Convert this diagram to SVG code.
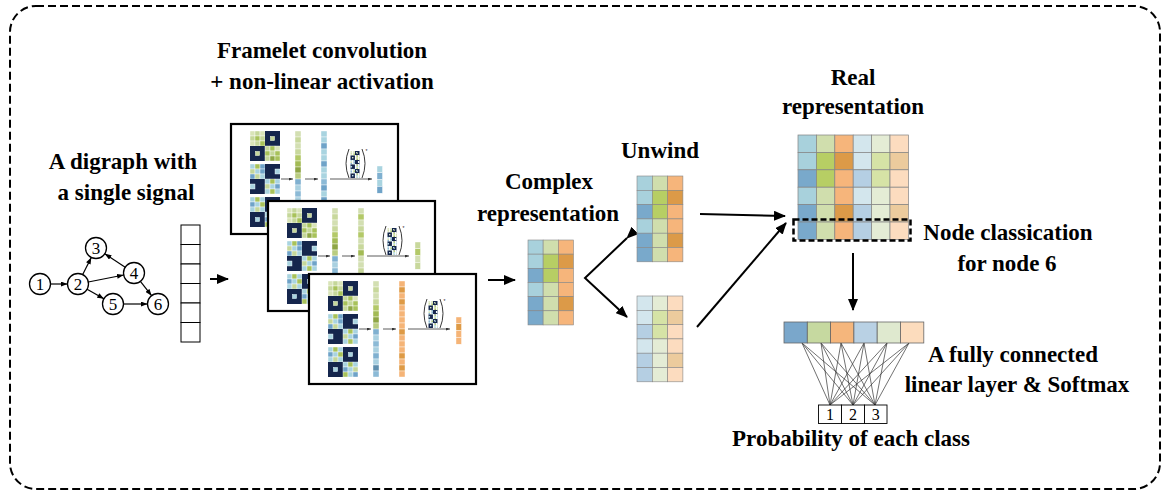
<svg xmlns="http://www.w3.org/2000/svg" xmlns:xlink="http://www.w3.org/1999/xlink" width="1169" height="495" viewBox="0 0 1169 495">
<style>
.t{font-family:'Liberation Serif','Times New Roman','DejaVu Serif',serif;font-weight:bold;font-size:23px;text-anchor:middle;fill:#000}
.nl{font-family:'Liberation Serif','Times New Roman','DejaVu Serif',serif;font-size:17px;text-anchor:middle;fill:#000}
.bl{font-family:'Liberation Serif','Times New Roman','DejaVu Serif',serif;font-size:16px;text-anchor:middle;fill:#000}
.c{stroke:#fff;stroke-width:0.4}
.g{stroke:#858585;stroke-width:0.6}
.node{fill:#fff;stroke:#000;stroke-width:1.3}
.panel{fill:#fff;stroke:#000;stroke-width:2.2}
.arr{stroke:#000;stroke-width:2;fill:none}
.sarr{stroke:#000;stroke-width:1.2;fill:none}
.parr{stroke:#333;stroke-width:0.8;fill:none}
.fc{stroke:#333;stroke-width:0.7}
.sig{fill:#fff;stroke:#000;stroke-width:1}
</style>
<defs>
<marker id="ah" viewBox="0 0 12 10" refX="11" refY="5" markerWidth="12" markerHeight="10" markerUnits="userSpaceOnUse" orient="auto"><path d="M0,0 L12,5 L0,10 z" fill="#000"/></marker>
<marker id="as" viewBox="0 0 8 6" refX="8" refY="3" markerWidth="7" markerHeight="5" markerUnits="userSpaceOnUse" orient="auto"><path d="M0,0 L8,3 L0,6 z" fill="#000"/></marker>
<marker id="ap" viewBox="0 0 4 3" refX="4" refY="1.5" markerWidth="4" markerHeight="3" markerUnits="userSpaceOnUse" orient="auto"><path d="M0,0 L4,1.5 L0,3 z" fill="#333"/></marker>
<g id="m1">
<rect class="c" x="0" y="0" width="5" height="5" fill="#d9e4b8"/><rect class="c" x="5" y="0" width="5" height="5" fill="#c5d79a"/><rect class="c" x="10" y="0" width="5" height="5" fill="#d9e4b8"/>
<rect class="c" x="0" y="5" width="5" height="5" fill="#c5d79a"/><rect class="c" x="5" y="5" width="5" height="5" fill="#a8c25a"/><rect class="c" x="10" y="5" width="5" height="5" fill="#c5d79a"/>
<rect class="c" x="0" y="10" width="5" height="5" fill="#d9e4b8"/><rect class="c" x="5" y="10" width="5" height="5" fill="#c5d79a"/><rect class="c" x="10" y="10" width="5" height="5" fill="#a8c25a"/>
<rect x="15" y="0" width="15" height="15" fill="#15264d"/><rect x="20.5" y="5.5" width="4" height="4" fill="#c5d79a" stroke="#e6eed0" stroke-width="0.6"/>
<rect x="0" y="15" width="15" height="15" fill="#15264d"/><rect x="5.5" y="20.5" width="4" height="4" fill="#c5d79a" stroke="#e6eed0" stroke-width="0.6"/>
<rect class="c" x="15" y="15" width="5" height="5" fill="#c5d79a"/><rect class="c" x="20" y="15" width="5" height="5" fill="#a8c25a"/><rect class="c" x="25" y="15" width="5" height="5" fill="#d9e4b8"/>
<rect class="c" x="15" y="20" width="5" height="5" fill="#a8c25a"/><rect class="c" x="20" y="20" width="5" height="5" fill="#c5d79a"/><rect class="c" x="25" y="20" width="5" height="5" fill="#a8c25a"/>
<rect class="c" x="15" y="25" width="5" height="5" fill="#c5d79a"/><rect class="c" x="20" y="25" width="5" height="5" fill="#8fa845"/><rect class="c" x="25" y="25" width="5" height="5" fill="#a8c25a"/>
</g>
<g id="m2">
<rect class="c" x="0" y="0" width="5" height="5" fill="#a9d4e0"/><rect class="c" x="5" y="0" width="5" height="5" fill="#a8c25a"/><rect class="c" x="10" y="0" width="5" height="5" fill="#6fa3c8"/>
<rect class="c" x="0" y="5" width="5" height="5" fill="#c5d79a"/><rect class="c" x="5" y="5" width="5" height="5" fill="#a9d4e0"/><rect class="c" x="10" y="5" width="5" height="5" fill="#6fa3c8"/>
<rect class="c" x="0" y="10" width="5" height="5" fill="#6fa3c8"/><rect class="c" x="5" y="10" width="5" height="5" fill="#c5d79a"/><rect class="c" x="10" y="10" width="5" height="5" fill="#a9d4e0"/>
<rect x="15" y="0" width="15" height="15" fill="#15264d"/><rect class="c" x="25" y="5" width="5" height="5" fill="#a9d4e0"/>
<rect x="0" y="15" width="15" height="15" fill="#15264d"/><rect class="c" x="0" y="20" width="5" height="5" fill="#a9d4e0"/>
<rect class="c" x="15" y="15" width="5" height="5" fill="#a9d4e0"/><rect class="c" x="20" y="15" width="5" height="5" fill="#a8c25a"/><rect class="c" x="25" y="15" width="5" height="5" fill="#a9d4e0"/>
<rect class="c" x="15" y="20" width="5" height="5" fill="#c5d79a"/><rect class="c" x="20" y="20" width="5" height="5" fill="#a9d4e0"/><rect class="c" x="25" y="20" width="5" height="5" fill="#6fa3c8"/>
<rect class="c" x="15" y="25" width="5" height="5" fill="#a9d4e0"/><rect class="c" x="20" y="25" width="5" height="5" fill="#a8c25a"/><rect class="c" x="25" y="25" width="5" height="5" fill="#a9d4e0"/>
</g>
<g id="m3">
<rect class="c" x="0" y="0" width="5" height="5" fill="#a9d4e0"/><rect class="c" x="5" y="0" width="5" height="5" fill="#a8c25a"/><rect class="c" x="10" y="0" width="5" height="5" fill="#a9d4e0"/>
<rect class="c" x="0" y="5" width="5" height="5" fill="#6fa3c8"/><rect class="c" x="5" y="5" width="5" height="5" fill="#a9d4e0"/><rect class="c" x="10" y="5" width="5" height="5" fill="#a8c25a"/>
<rect class="c" x="0" y="10" width="5" height="5" fill="#a9d4e0"/><rect class="c" x="5" y="10" width="5" height="5" fill="#c5d79a"/><rect class="c" x="10" y="10" width="5" height="5" fill="#a9d4e0"/>
<rect x="15" y="0" width="15" height="15" fill="#15264d"/><rect x="20.5" y="5.5" width="4" height="4" fill="#a9d4e0" stroke="#d4ebf2" stroke-width="0.6"/>
<rect x="0" y="15" width="15" height="15" fill="#15264d"/><rect x="5.5" y="20.5" width="4" height="4" fill="#a9d4e0" stroke="#d4ebf2" stroke-width="0.6"/>
<rect class="c" x="15" y="15" width="5" height="5" fill="#a9d4e0"/><rect class="c" x="20" y="15" width="5" height="5" fill="#a8c25a"/><rect class="c" x="25" y="15" width="5" height="5" fill="#a9d4e0"/>
<rect class="c" x="15" y="20" width="5" height="5" fill="#6fa3c8"/><rect class="c" x="20" y="20" width="5" height="5" fill="#a9d4e0"/><rect class="c" x="25" y="20" width="5" height="5" fill="#c5d79a"/>
<rect class="c" x="15" y="25" width="5" height="5" fill="#a8c25a"/><rect class="c" x="20" y="25" width="5" height="5" fill="#a9d4e0"/><rect class="c" x="25" y="25" width="5" height="5" fill="#6fa3c8"/>
</g>
<g id="col1">
<rect class="c" x="0" y="0" width="6" height="6" fill="#d3dfb2"/><rect class="c" x="0" y="6" width="6" height="6" fill="#c8d89c"/><rect class="c" x="0" y="12" width="6" height="6" fill="#d3dfb2"/><rect class="c" x="0" y="18" width="6" height="6" fill="#c8d89c"/>
<rect class="c" x="0" y="24" width="6" height="6" fill="#b3c968"/><rect class="c" x="0" y="30" width="6" height="6" fill="#a3bb55"/><rect class="c" x="0" y="36" width="6" height="6" fill="#8fa645"/><rect class="c" x="0" y="42" width="6" height="6" fill="#b9cc80"/>
<rect class="c" x="0" y="48" width="6" height="6" fill="#7fb0d0"/><rect class="c" x="0" y="54" width="6" height="6" fill="#a9d0e0"/><rect class="c" x="0" y="60" width="6" height="6" fill="#8cbad6"/><rect class="c" x="0" y="66" width="6" height="6" fill="#a9d0e0"/>
<rect class="c" x="0" y="72" width="6" height="6" fill="#7fb0d0"/><rect class="c" x="0" y="78" width="6" height="6" fill="#a9d0e0"/><rect class="c" x="0" y="84" width="6" height="6" fill="#5f8fae"/><rect class="c" x="0" y="90" width="6" height="6" fill="#8cbad6"/>
</g>
<g id="pbase">
<rect class="panel" x="0" y="0" width="167" height="110"/>
<use href="#m1" x="19" y="7"/>
<use href="#m2" x="19" y="40"/>
<use href="#m3" x="19" y="73"/>
<use href="#col1" x="64" y="7"/>
<line class="parr" x1="50" y1="55" x2="62" y2="55" marker-end="url(#ap)"/>
<line class="parr" x1="74" y1="55" x2="87" y2="55" marker-end="url(#ap)"/>
<line class="parr" x1="99" y1="55" x2="141" y2="55" marker-end="url(#ap)"/>
<use href="#m1" transform="translate(119.5,27) scale(0.3)"/>
<use href="#m2" transform="translate(119.5,36) scale(0.3)"/>
<use href="#m3" transform="translate(119.5,45) scale(0.3)"/>
<path d="M118,25 Q112,39.5 118,54" fill="none" stroke="#222" stroke-width="0.9"/>
<path d="M131,25 Q137,39.5 131,54" fill="none" stroke="#222" stroke-width="0.9"/>
<text x="134.5" y="29" font-family="'Liberation Sans', sans-serif" font-size="5" fill="#222">*</text>
</g>
<g id="triA">
<rect class="g" x="0" y="0" width="15.3" height="14.3" fill="#a8d1dc"/><rect class="g" x="0" y="14.3" width="15.3" height="14.3" fill="#a8d1dc"/><rect class="g" x="0" y="28.6" width="15.3" height="14.3" fill="#79a9cb"/><rect class="g" x="0" y="42.9" width="15.3" height="14.3" fill="#a8d1dc"/><rect class="g" x="0" y="57.2" width="15.3" height="14.3" fill="#79a9cb"/><rect class="g" x="0" y="71.5" width="15.3" height="14.3" fill="#79a9cb"/>
<rect class="g" x="15.3" y="0" width="15.3" height="14.3" fill="#d0dead"/><rect class="g" x="15.3" y="14.3" width="15.3" height="14.3" fill="#b7ce64"/><rect class="g" x="15.3" y="28.6" width="15.3" height="14.3" fill="#b7ce64"/><rect class="g" x="15.3" y="42.9" width="15.3" height="14.3" fill="#d0dead"/><rect class="g" x="15.3" y="57.2" width="15.3" height="14.3" fill="#d0dead"/><rect class="g" x="15.3" y="71.5" width="15.3" height="14.3" fill="#d0dead"/>
<rect class="g" x="30.6" y="0" width="15.3" height="14.3" fill="#f6b57b"/><rect class="g" x="30.6" y="14.3" width="15.3" height="14.3" fill="#dc9a48"/><rect class="g" x="30.6" y="28.6" width="15.3" height="14.3" fill="#f6b57b"/><rect class="g" x="30.6" y="42.9" width="15.3" height="14.3" fill="#f6b57b"/><rect class="g" x="30.6" y="57.2" width="15.3" height="14.3" fill="#dc9a48"/><rect class="g" x="30.6" y="71.5" width="15.3" height="14.3" fill="#f6b57b"/>
</g>
<g id="triB">
<rect class="g" x="0" y="0" width="15.3" height="14.3" fill="#d3e6ed"/><rect class="g" x="0" y="14.3" width="15.3" height="14.3" fill="#d3e6ed"/><rect class="g" x="0" y="28.6" width="15.3" height="14.3" fill="#b5cfe3"/><rect class="g" x="0" y="42.9" width="15.3" height="14.3" fill="#d3e6ed"/><rect class="g" x="0" y="57.2" width="15.3" height="14.3" fill="#b5cfe3"/><rect class="g" x="0" y="71.5" width="15.3" height="14.3" fill="#b5cfe3"/>
<rect class="g" x="15.3" y="0" width="15.3" height="14.3" fill="#e4ecd5"/><rect class="g" x="15.3" y="14.3" width="15.3" height="14.3" fill="#d6e3a6"/><rect class="g" x="15.3" y="28.6" width="15.3" height="14.3" fill="#d6e3a6"/><rect class="g" x="15.3" y="42.9" width="15.3" height="14.3" fill="#e4ecd5"/><rect class="g" x="15.3" y="57.2" width="15.3" height="14.3" fill="#e4ecd5"/><rect class="g" x="15.3" y="71.5" width="15.3" height="14.3" fill="#e4ecd5"/>
<rect class="g" x="30.6" y="0" width="15.3" height="14.3" fill="#fcdcbf"/><rect class="g" x="30.6" y="14.3" width="15.3" height="14.3" fill="#eccb9d"/><rect class="g" x="30.6" y="28.6" width="15.3" height="14.3" fill="#fcdcbf"/><rect class="g" x="30.6" y="42.9" width="15.3" height="14.3" fill="#fcdcbf"/><rect class="g" x="30.6" y="57.2" width="15.3" height="14.3" fill="#eccb9d"/><rect class="g" x="30.6" y="71.5" width="15.3" height="14.3" fill="#fcdcbf"/>
</g>
</defs>

<rect id="frame" x="10" y="6" width="1150" height="483" rx="26" fill="#fff" stroke="#000" stroke-width="2" stroke-dasharray="8 4"/>

<g id="labels" font-family="'Liberation Serif', 'Times New Roman', 'DejaVu Serif', serif">
<text class="t" x="123" y="169">A digraph with</text>
<text class="t" x="126" y="200">a single signal</text>
<text class="t" x="322" y="58">Framelet convolution</text>
<text class="t" x="322" y="89">+ non-linear activation</text>
<text class="t" x="549" y="189">Complex</text>
<text class="t" x="548" y="221">representation</text>
<text class="t" x="660" y="158">Unwind</text>
<text class="t" x="853" y="85">Real</text>
<text class="t" x="853" y="114">representation</text>
<text class="t" x="1008" y="240">Node classication</text>
<text class="t" x="1007" y="271">for node 6</text>
<text class="t" x="1013" y="362">A fully connected</text>
<text class="t" x="1017" y="392">linear layer &amp; Softmax</text>
<text class="t" x="851" y="446">Probability of each class</text>
</g>

<g id="connectors">
<line class="sarr" x1="50.5" y1="284" x2="67.5" y2="284" marker-end="url(#as)"/>
<line class="sarr" x1="82.7" y1="274.6" x2="91.3" y2="257.4" marker-end="url(#as)"/>
<line class="sarr" x1="88.3" y1="282" x2="123.7" y2="275" marker-end="url(#as)"/>
<line class="sarr" x1="87.1" y1="289.2" x2="103.9" y2="298.8" marker-end="url(#as)"/>
<line class="sarr" x1="125.2" y1="267.2" x2="104.8" y2="253.8" marker-end="url(#as)"/>
<line class="sarr" x1="140.4" y1="281.3" x2="151.6" y2="295.7" marker-end="url(#as)"/>
<line class="sarr" x1="123.5" y1="304" x2="147.5" y2="304" marker-end="url(#as)"/>
<line class="arr" x1="210" y1="279" x2="228" y2="279" marker-end="url(#ah)"/>
<line class="arr" x1="488" y1="280" x2="515" y2="280" marker-end="url(#ah)"/>
<polyline class="arr" points="627,238 585,278 627,317" marker-start="url(#ah)" marker-end="url(#ah)"/>
<line class="arr" x1="700" y1="214" x2="785" y2="216" marker-end="url(#ah)"/>
<line class="arr" x1="697" y1="327" x2="786" y2="223" marker-end="url(#ah)"/>
<line class="arr" x1="853" y1="253" x2="853" y2="310" marker-end="url(#ah)"/>
</g>

<g id="digraph" font-family="'Liberation Serif', 'Times New Roman', 'DejaVu Serif', serif">
<circle class="node" cx="40" cy="284" r="10.5"/><text class="nl" x="40" y="290">1</text>
<circle class="node" cx="78" cy="284" r="10.5"/><text class="nl" x="78" y="290">2</text>
<circle class="node" cx="96" cy="248" r="10.5"/><text class="nl" x="96" y="254">3</text>
<circle class="node" cx="134" cy="273" r="10.5"/><text class="nl" x="134" y="279">4</text>
<circle class="node" cx="113" cy="304" r="10.5"/><text class="nl" x="113" y="310">5</text>
<circle class="node" cx="158" cy="304" r="10.5"/><text class="nl" x="158" y="310">6</text>
</g>

<g id="signal">
<rect class="sig" x="181" y="225" width="19" height="19.5"/><rect class="sig" x="181" y="244.5" width="19" height="19.5"/><rect class="sig" x="181" y="264" width="19" height="19.5"/>
<rect class="sig" x="181" y="283.5" width="19" height="19.5"/><rect class="sig" x="181" y="303" width="19" height="19.5"/><rect class="sig" x="181" y="322.5" width="19" height="19.5"/>
</g>

<g id="panel1" transform="translate(231,124)">
<use href="#pbase"/>
<g transform="translate(90,7)">
<rect class="c" x="0" y="0" width="6" height="6" fill="#a9d4e0"/><rect class="c" x="0" y="6" width="6" height="6" fill="#a9d4e0"/><rect class="c" x="0" y="12" width="6" height="6" fill="#6fa3c8"/><rect class="c" x="0" y="18" width="6" height="6" fill="#a9d4e0"/>
<rect class="c" x="0" y="24" width="6" height="6" fill="#a9d4e0"/><rect class="c" x="0" y="30" width="6" height="6" fill="#6fa3c8"/><rect class="c" x="0" y="36" width="6" height="6" fill="#a9d4e0"/><rect class="c" x="0" y="42" width="6" height="6" fill="#a9d4e0"/>
<rect class="c" x="0" y="48" width="6" height="6" fill="#8cbad6"/><rect class="c" x="0" y="54" width="6" height="6" fill="#6fa3c8"/><rect class="c" x="0" y="60" width="6" height="6" fill="#a9d4e0"/><rect class="c" x="0" y="66" width="6" height="6" fill="#6fa3c8"/>
<rect class="c" x="0" y="72" width="6" height="6" fill="#a9d4e0"/><rect class="c" x="0" y="78" width="6" height="6" fill="#6fa3c8"/><rect class="c" x="0" y="84" width="6" height="6" fill="#a9d4e0"/><rect class="c" x="0" y="90" width="6" height="6" fill="#8cbad6"/>
</g>
<g transform="translate(146,42)">
<rect class="c" x="0" y="0" width="5.5" height="6.8" fill="#a9d4e0"/><rect class="c" x="0" y="6.8" width="5.5" height="6.8" fill="#7fb0d0"/><rect class="c" x="0" y="13.6" width="5.5" height="6.8" fill="#a9d4e0"/><rect class="c" x="0" y="20.4" width="5.5" height="6.8" fill="#6fa3c8"/>
</g>
</g>

<g id="panel2" transform="translate(268,201)">
<use href="#pbase"/>
<g transform="translate(90,7)">
<rect class="c" x="0" y="0" width="6" height="6" fill="#d3dfb2"/><rect class="c" x="0" y="6" width="6" height="6" fill="#b3c968"/><rect class="c" x="0" y="12" width="6" height="6" fill="#d3dfb2"/><rect class="c" x="0" y="18" width="6" height="6" fill="#c8d89c"/>
<rect class="c" x="0" y="24" width="6" height="6" fill="#b3c968"/><rect class="c" x="0" y="30" width="6" height="6" fill="#d3dfb2"/><rect class="c" x="0" y="36" width="6" height="6" fill="#c8d89c"/><rect class="c" x="0" y="42" width="6" height="6" fill="#a3bb55"/>
<rect class="c" x="0" y="48" width="6" height="6" fill="#d3dfb2"/><rect class="c" x="0" y="54" width="6" height="6" fill="#d3dfb2"/><rect class="c" x="0" y="60" width="6" height="6" fill="#c8d89c"/><rect class="c" x="0" y="66" width="6" height="6" fill="#d3dfb2"/>
<rect class="c" x="0" y="72" width="6" height="6" fill="#d3dfb2"/><rect class="c" x="0" y="78" width="6" height="6" fill="#c8d89c"/><rect class="c" x="0" y="84" width="6" height="6" fill="#d3dfb2"/><rect class="c" x="0" y="90" width="6" height="6" fill="#d3dfb2"/>
</g>
<g transform="translate(147,41)">
<rect class="c" x="0" y="0" width="5.5" height="6.8" fill="#c8d89c"/><rect class="c" x="0" y="6.8" width="5.5" height="6.8" fill="#b3c968"/><rect class="c" x="0" y="13.6" width="5.5" height="6.8" fill="#d3dfb2"/><rect class="c" x="0" y="20.4" width="5.5" height="6.8" fill="#c8d89c"/>
</g>
</g>

<g id="panel3" transform="translate(309,274)">
<use href="#pbase"/>
<g transform="translate(90,7)">
<rect class="c" x="0" y="0" width="6" height="6" fill="#f5b477"/><rect class="c" x="0" y="6" width="6" height="6" fill="#de9a45"/><rect class="c" x="0" y="12" width="6" height="6" fill="#f5b477"/><rect class="c" x="0" y="18" width="6" height="6" fill="#de9a45"/>
<rect class="c" x="0" y="24" width="6" height="6" fill="#f5b477"/><rect class="c" x="0" y="30" width="6" height="6" fill="#f5b477"/><rect class="c" x="0" y="36" width="6" height="6" fill="#f5b477"/><rect class="c" x="0" y="42" width="6" height="6" fill="#f5b477"/>
<rect class="c" x="0" y="48" width="6" height="6" fill="#de9a45"/><rect class="c" x="0" y="54" width="6" height="6" fill="#f5b477"/><rect class="c" x="0" y="60" width="6" height="6" fill="#f5b477"/><rect class="c" x="0" y="66" width="6" height="6" fill="#f5b477"/>
<rect class="c" x="0" y="72" width="6" height="6" fill="#de9a45"/><rect class="c" x="0" y="78" width="6" height="6" fill="#f5b477"/><rect class="c" x="0" y="84" width="6" height="6" fill="#de9a45"/><rect class="c" x="0" y="90" width="6" height="6" fill="#f5b477"/>
</g>
<g transform="translate(147,43)">
<rect class="c" x="0" y="0" width="5.5" height="6.8" fill="#f5b477"/><rect class="c" x="0" y="6.8" width="5.5" height="6.8" fill="#de9a45"/><rect class="c" x="0" y="13.6" width="5.5" height="6.8" fill="#f5b477"/><rect class="c" x="0" y="20.4" width="5.5" height="6.8" fill="#f5b477"/>
</g>
</g>

<g id="complex"><use href="#triA" transform="translate(528,240) scale(0.99,0.99)"/></g>
<g id="unwind-top"><use href="#triA" x="637" y="176"/></g>
<g id="unwind-bottom"><use href="#triB" x="637" y="296"/></g>
<g id="real">
<use href="#triA" transform="translate(798,135) scale(1.203,1.217)"/>
<use href="#triB" transform="translate(853.2,135) scale(1.203,1.217)"/>
<rect x="793.5" y="219.5" width="117" height="21" fill="none" stroke="#000" stroke-width="2.5" stroke-dasharray="6 3"/>
</g>

<g id="fc-layer">
<g>
<line class="fc" x1="802" y1="343" x2="830" y2="405"/><line class="fc" x1="802" y1="343" x2="853" y2="405"/><line class="fc" x1="802" y1="343" x2="875" y2="405"/>
<line class="fc" x1="821" y1="343" x2="830" y2="405"/><line class="fc" x1="821" y1="343" x2="853" y2="405"/><line class="fc" x1="821" y1="343" x2="875" y2="405"/>
<line class="fc" x1="841" y1="343" x2="830" y2="405"/><line class="fc" x1="841" y1="343" x2="853" y2="405"/><line class="fc" x1="841" y1="343" x2="875" y2="405"/>
<line class="fc" x1="864" y1="343" x2="830" y2="405"/><line class="fc" x1="864" y1="343" x2="853" y2="405"/><line class="fc" x1="864" y1="343" x2="875" y2="405"/>
<line class="fc" x1="887" y1="343" x2="830" y2="405"/><line class="fc" x1="887" y1="343" x2="853" y2="405"/><line class="fc" x1="887" y1="343" x2="875" y2="405"/>
<line class="fc" x1="909" y1="343" x2="830" y2="405"/><line class="fc" x1="909" y1="343" x2="853" y2="405"/><line class="fc" x1="909" y1="343" x2="875" y2="405"/>
</g>
<rect x="784" y="322" width="23.3" height="21" fill="#7aa7cb" stroke="#666" stroke-width="0.8"/>
<rect x="807.3" y="322" width="23.3" height="21" fill="#c6d9a0" stroke="#666" stroke-width="0.8"/>
<rect x="830.6" y="322" width="23.3" height="21" fill="#f5b67c" stroke="#666" stroke-width="0.8"/>
<rect x="853.9" y="322" width="23.3" height="21" fill="#b9d1e4" stroke="#666" stroke-width="0.8"/>
<rect x="877.2" y="322" width="23.3" height="21" fill="#dfe9cf" stroke="#666" stroke-width="0.8"/>
<rect x="900.5" y="322" width="23.3" height="21" fill="#fcdcbd" stroke="#666" stroke-width="0.8"/>
</g>

<g id="output" font-family="'Liberation Serif', 'Times New Roman', 'DejaVu Serif', serif">
<rect x="818.5" y="405" width="23" height="18.5" fill="#fff" stroke="#000" stroke-width="0.9"/>
<rect x="841.5" y="405" width="23" height="18.5" fill="#fff" stroke="#000" stroke-width="0.9"/>
<rect x="864.5" y="405" width="22.5" height="18.5" fill="#fff" stroke="#000" stroke-width="0.9"/>
<text class="bl" x="830" y="420">1</text>
<text class="bl" x="853" y="420">2</text>
<text class="bl" x="875.7" y="420">3</text>
</g>
</svg>
